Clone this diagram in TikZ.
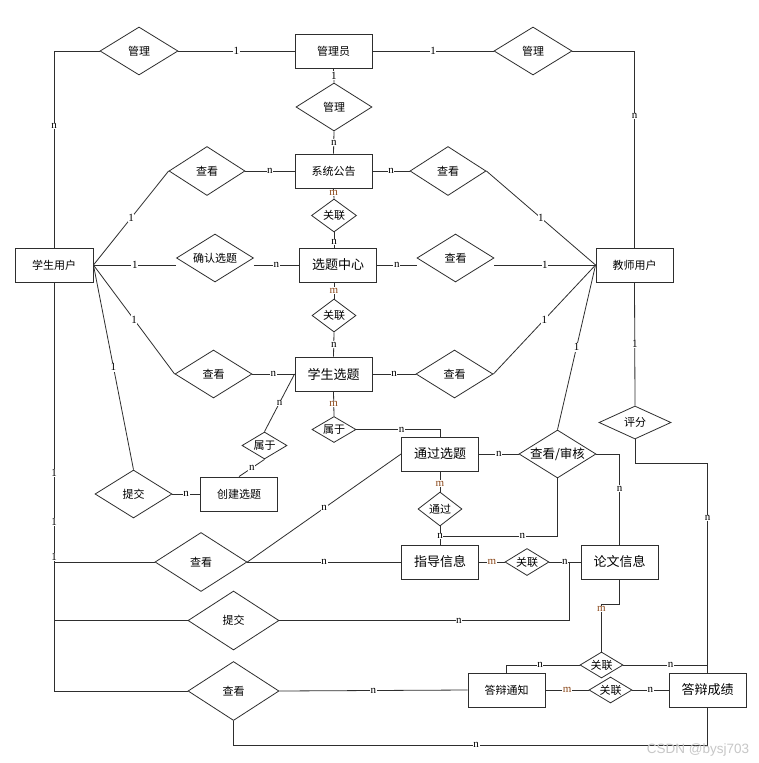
\documentclass[tikz,border=0pt]{standalone}
\usepackage{fontspec}
\setmainfont{Liberation Serif}
\newfontfamily\cjk{Noto Sans CJK SC}
\newfontfamily\wmfont{Liberation Sans}
\usetikzlibrary{shapes.geometric}
\definecolor{lc}{HTML}{2E2E2E}
\definecolor{mc}{HTML}{8C4A1C}
\begin{document}
\begin{tikzpicture}[x=1pt,y=-1pt,
  erbox/.style={draw=lc, line width=0.9pt, fill=white, minimum width=77, minimum height=34, inner sep=0pt, font=\cjk\fontsize{11}{13}\selectfont},
  erboxb/.style={erbox, font=\cjk\fontsize{13}{15}\selectfont},
  relbox/.style={diamond, draw=lc, line width=0.8pt, fill=white, inner sep=0pt},
  reltext/.style={font=\cjk\fontsize{11}{13}\selectfont, inner sep=0pt},
  reltextb/.style={font=\cjk\fontsize{12.5}{14}\selectfont, inner sep=0pt},
  cardlab/.style={fill=white, inner sep=0.6pt, font=\fontsize{11}{12}\selectfont, text=black},
  cardm/.style={cardlab, text=mc},
  conn/.style={draw=lc, line width=0.8pt}
]
\fill[white] (0,0) rectangle (759,763);
\useasboundingbox (0,0) rectangle (759,763);

% entities
\node[erbox]  (gly)  at (333.5,51)  {管理员};
\node[erbox]  (xtgg) at (333.5,171) {系统公告};
\node[erboxb] (xtzx) at (338,265)   {选题中心};
\node[erboxb] (xsxt) at (333.5,374) {学生选题};
\node[erbox, minimum width=78] (xsyh) at (54,265) {学生用户};
\node[erbox]  (jsyh) at (634.5,265) {教师用户};
\node[erboxb] (tgxt) at (440,454)   {通过选题};
\node[erbox]  (cjxt) at (239,494)   {创建选题};
\node[erboxb] (zdxx) at (440,562)   {指导信息};
\node[erboxb] (lwxx) at (619.5,562) {论文信息};
\node[erbox]  (dbtz) at (506.5,690) {答辩通知};
\node[erboxb] (dbcj) at (707.5,690) {答辩成绩};

% relationships
\node[relbox, minimum width=78, minimum height=48, label={[reltext]center:管理}] (r1) at (139,51) {};
\node[relbox, minimum width=78, minimum height=48, label={[reltext]center:管理}] (r2) at (533,51) {};
\node[relbox, minimum width=76, minimum height=48, label={[reltext]center:管理}] (r3) at (334,107) {};
\node[relbox, minimum width=76, minimum height=49, label={[reltext]center:查看}] (r4) at (207,171) {};
\node[relbox, minimum width=76, minimum height=49, label={[reltext]center:查看}] (r5) at (448,171) {};
\node[relbox, minimum width=45, minimum height=33, label={[reltext]center:关联}] (r6) at (334,215.5) {};
\node[relbox, minimum width=77, minimum height=48, label={[reltext]center:确认选题}] (r7) at (215,258) {};
\node[relbox, minimum width=77, minimum height=48, label={[reltext]center:查看}] (r8) at (455.5,258) {};
\node[relbox, minimum width=44, minimum height=33, label={[reltext]center:关联}] (r9) at (334,315.5) {};
\node[relbox, minimum width=77, minimum height=48, label={[reltext]center:查看}] (r10) at (213.5,374) {};
\node[relbox, minimum width=77, minimum height=48, label={[reltext]center:查看}] (r11) at (454.5,374) {};
\node[relbox, minimum width=44, minimum height=26, label={[reltext]center:属于}] (r12) at (334,429.5) {};
\node[relbox, minimum width=45, minimum height=27, label={[reltext]center:属于}] (r13) at (264.5,445.5) {};
\node[relbox, minimum width=77, minimum height=48, label={[reltext]center:提交}] (r14) at (133.5,494) {};
\node[relbox, minimum width=77, minimum height=48, label={[reltextb]center:查看/审核}] (r15) at (557.5,454) {};
\node[relbox, minimum width=72, minimum height=33, label={[reltext]center:评分}] (r16) at (635,422.5) {};
\node[relbox, minimum width=44, minimum height=34, label={[reltext]center:通过}] (r17) at (440,509) {};
\node[relbox, minimum width=92, minimum height=59, label={[reltext]center:查看}] (r18) at (201,562) {};
\node[relbox, minimum width=91, minimum height=59, label={[reltext]center:提交}] (r19) at (233.5,620.5) {};
\node[relbox, minimum width=91, minimum height=59, label={[reltext]center:查看}] (r20) at (233.5,691) {};
\node[relbox, minimum width=44, minimum height=27, label={[reltext]center:关联}] (r21) at (527,562) {};
\node[relbox, minimum width=43, minimum height=26, label={[reltext]center:关联}] (r22) at (601.5,665) {};
\node[relbox, minimum width=43, minimum height=26, label={[reltext]center:关联}] (r23) at (610.5,690) {};

\coordinate (j1) at (440,536);
\coordinate (j2) at (569,562);
\coordinate (j3) at (601.5,604);

% connectors
\draw[conn] (xsyh.north) |- node[cardlab,pos=0.31]{n} (r1.west);
\draw[conn] (r1.east) -- node[cardlab]{1} (gly.west);
\draw[conn] (gly.east) -- node[cardlab]{1} (r2.west);
\draw[conn] (r2.east) -| node[cardlab,pos=0.665]{n} (jsyh.north);
\draw[conn] (gly.south) -- node[cardlab]{1} (r3.north);
\draw[conn] (r3.south) -- node[cardlab]{n} (xtgg.north);
\draw[conn] (xsyh.east) -- node[cardlab]{1} (r4.west);
\draw[conn] (r4.east) -- node[cardlab]{n} (xtgg.west);
\draw[conn] (xtgg.east) -- node[cardlab]{n} (r5.west);
\draw[conn] (r5.east) -- node[cardlab]{1} (jsyh.west);
\draw[conn] (xtgg.south) -- node[cardm,pos=0.45]{m} (r6.north);
\draw[conn] (r6.south) -- node[cardlab,pos=0.65]{n} (r6.south |- xtzx.north);
\draw[conn] (xsyh.east) -- node[cardlab]{1} (r7.west |- xsyh.east);
\draw[conn] (r7.east |- xtzx.west) -- node[cardlab]{n} (xtzx.west);
\draw[conn] (xtzx.east) -- node[cardlab]{n} (r8.west |- xtzx.east);
\draw[conn] (r8.east |- jsyh.west) -- node[cardlab]{1} (jsyh.west);
\draw[conn] (r9.north |- xtzx.south) -- node[cardm]{m} (r9.north);
\draw[conn] (r9.south) -- node[cardlab]{n} (xsxt.north);
\draw[conn] (xsyh.east) -- node[cardlab]{1} (r10.west);
\draw[conn] (r10.east) -- node[cardlab]{n} (xsxt.west);
\draw[conn] (xsxt.east) -- node[cardlab]{n} (r11.west);
\draw[conn] (r11.east) -- node[cardlab]{1} (jsyh.west);
\draw[conn] (xsyh.east) -- node[cardlab]{1} (r14.north);
\draw[conn] (r14.east) -- node[cardlab]{n} (cjxt.west);
\draw[conn] (cjxt.north) -- node[cardlab]{n} (r13.south);
\draw[conn] (r13.north) -- node[cardlab]{n} (xsxt.west);
\draw[conn] (xsxt.south) -- node[cardm]{m} (r12.north);
\draw[conn] (r12.east) -| node[cardlab,pos=0.27]{n} (tgxt.north);
\draw[conn] (tgxt.east) -- node[cardlab]{n} (r15.west);
\draw[conn] (r15.north) -- node[cardlab]{1} (jsyh.west);
\draw[conn] (r15.east) -| node[cardlab,pos=0.69]{n} (lwxx.north);
\draw[conn] (tgxt.south) -- node[cardm,pos=0.6]{m} (r17.north);
\draw[conn] (r17.south) -- (zdxx.north);
\draw[conn] (r15.south) |- node[cardlab,pos=0.65]{n} (j1);
\node[cardlab] (nj1) at (j1) {n};
\draw[conn] (r18.east) -- node[cardlab]{n} (tgxt.west);
\draw[conn] (r18.east) -- node[cardlab]{n} (zdxx.west);
\draw[conn] (xsyh.south) |- node[cardlab,pos=0.233]{1} node[cardlab,pos=0.293]{1} node[cardlab,pos=0.336]{1} (r20.west);
\draw[conn] (r18.west) -- (xsyh.south |- r18.west);
\draw[conn] (r19.west) -- (xsyh.south |- r19.west);
\draw[conn] (r19.east) -| node[cardlab,pos=0.31]{n} (j2) -- (lwxx.west);
\draw[conn] (zdxx.east) -- node[cardm]{m} (r21.west);
\draw[conn] (r21.east) -- node[cardlab]{n} (lwxx.west);
\draw[conn] (lwxx.south) |- (j3) -- node[cardm,pos=0.1]{m} (r22.north);
\draw[conn] (r22.west) -| node[cardlab,pos=0.27]{n} (dbtz.north);
\draw[conn] (r22.east) -| node[cardlab,pos=0.28]{n} (dbcj.north);
\draw[conn] (dbtz.east) -- node[cardm]{m} (r23.west);
\draw[conn] (r23.east) -- node[cardlab]{n} (dbcj.west);
\draw[conn] (r20.east) -- node[cardlab]{n} (dbtz.west);
\draw[conn] (r20.south) -- ++(0,24) -| node[cardlab,pos=0.256]{n} (dbcj.south);
\draw[conn] (jsyh.south) -- node[cardlab]{1} (r16.north);
\draw[conn] (r16.south) -- ++(0,24) -| node[cardlab,pos=0.63]{n} (dbcj.north);

\node[text=black!22, font=\wmfont\fontsize{13.5}{15}\selectfont, inner sep=0pt] (wm) at (698,750) {CSDN @bysj703};
\end{tikzpicture}
\end{document}
